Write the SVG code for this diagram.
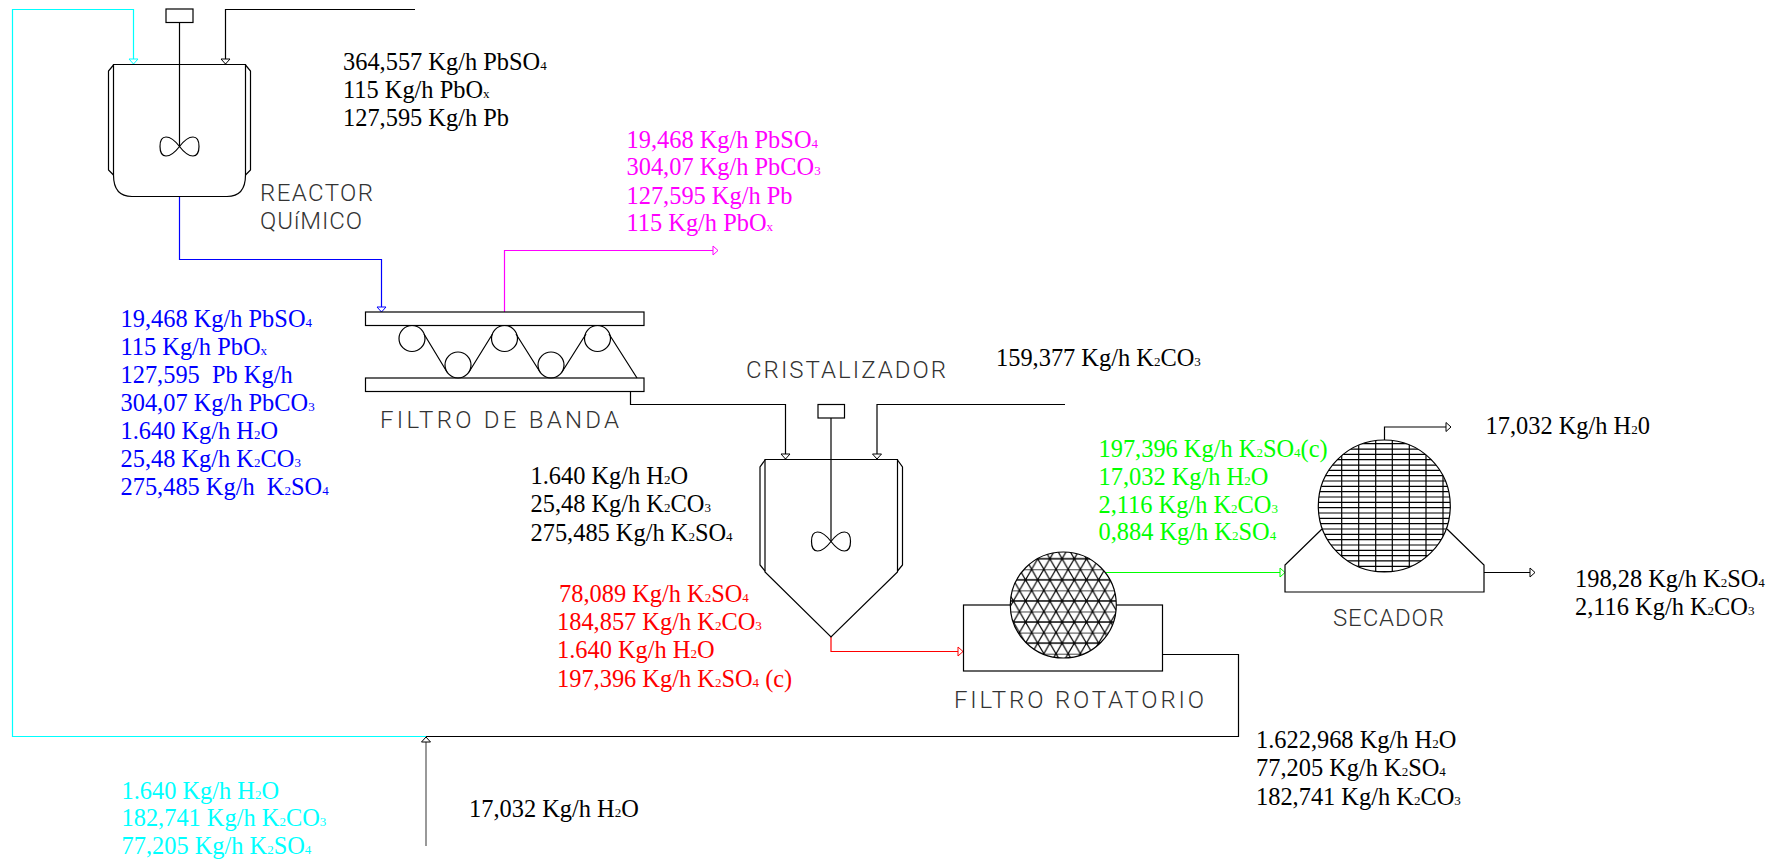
<svg xmlns="http://www.w3.org/2000/svg" width="1789" height="860" viewBox="0 0 1789 860">
<style>
.e{fill:none;stroke:#000;stroke-width:1.2}
.c{fill:none;stroke-width:1.2}
.t{font-family:"Liberation Serif","Times New Roman",serif;font-size:24.4px}
.s{font-size:13px}
.d{font-family:Roboto,"Liberation Sans",sans-serif;font-weight:300;font-size:24px;fill:#333}
</style>
<defs>
<marker id="ak" markerUnits="userSpaceOnUse" markerWidth="8" markerHeight="12" refX="6" refY="6" orient="auto"><path d="M1 1.5L6 6L1 10.500Z" fill="#fff" stroke="#000"/></marker>
<marker id="ac" markerUnits="userSpaceOnUse" markerWidth="8" markerHeight="12" refX="6" refY="6" orient="auto"><path d="M1 1.5L6 6L1 10.500Z" fill="#fff" stroke="#0ff"/></marker>
<marker id="ab" markerUnits="userSpaceOnUse" markerWidth="8" markerHeight="12" refX="6" refY="6" orient="auto"><path d="M1 1.5L6 6L1 10.500Z" fill="#fff" stroke="#00f"/></marker>
<marker id="am" markerUnits="userSpaceOnUse" markerWidth="8" markerHeight="12" refX="6" refY="6" orient="auto"><path d="M1 1.5L6 6L1 10.500Z" fill="#fff" stroke="#f0f"/></marker>
<marker id="ar" markerUnits="userSpaceOnUse" markerWidth="8" markerHeight="12" refX="6" refY="6" orient="auto"><path d="M1 1.5L6 6L1 10.500Z" fill="#fff" stroke="#f00"/></marker>
<marker id="ag" markerUnits="userSpaceOnUse" markerWidth="8" markerHeight="12" refX="6" refY="6" orient="auto"><path d="M1 1.5L6 6L1 10.500Z" fill="#fff" stroke="#0f0"/></marker>
<pattern id="tri" patternUnits="userSpaceOnUse" width="12.18" height="21.1" patternTransform="translate(1056 569.3)"><path d="M0 0H12.18M0 10.55H12.18M0 0L6.09 10.55L0 21.1M12.18 0L6.09 10.55L12.18 21.1" fill="none" stroke="#000" stroke-width="1.2"/></pattern>
<clipPath id="sc"><circle cx="1384.300" cy="506" r="66"/></clipPath>
<path id="imp" d="M0 0C-6.500 -8.500 -11.500 -9.500 -13.500 -9.500C-17.500 -9.500 -19.500 -5.500 -19.500 0C-19.500 5.500 -17.500 9.500 -13.500 9.500C-11.500 9.500 -6.500 8.500 0 0C6.500 -8.500 11.500 -9.500 13.500 -9.500C17.500 -9.500 19.500 -5.500 19.500 0C19.500 5.500 17.500 9.500 13.500 9.500C11.500 9.500 6.500 8.500 0 0Z" fill="none" stroke="#000" stroke-width="1.200"/>
</defs>
<rect width="1789" height="860" fill="#fff"/>
<g id="connectors">
<path class="c" stroke="#0ff" d="M426 736.500H12.500V9.500H133.500V64" marker-end="url(#ac)"/>
<path class="c" stroke="#000" d="M415 9.500H225.500V64" marker-end="url(#ak)"/>
<path class="c" stroke="#00f" d="M179.500 197V259.500H381.500V312" marker-end="url(#ab)"/>
<path class="c" stroke="#f0f" d="M504.500 312V250.500H718" marker-end="url(#am)"/>
<path class="c" stroke="#000" d="M630.500 391V404.500H785.500V459" marker-end="url(#ak)"/>
<path class="c" stroke="#000" d="M1065 404.500H877V459" marker-end="url(#ak)"/>
<path class="c" stroke="#f00" d="M831 637V651.500H963" marker-end="url(#ar)"/>
<path class="c" stroke="#0f0" d="M1105 572.500H1285" marker-end="url(#ag)"/>
<path class="c" stroke="#000" d="M1384.500 440V427H1451" marker-end="url(#ak)"/>
<path class="c" stroke="#000" d="M1484 572.500H1535" marker-end="url(#ak)"/>
<path class="c" stroke="#000" d="M1162.500 654.500H1238.500V736.500H426"/>
<path class="c" stroke="#555" d="M426 846V737" marker-end="url(#ak)"/>
</g>
<g id="reactor">
<rect class="e" x="166" y="9" width="27" height="13.500"/>
<path class="e" d="M113.500 64.500H245.500V175Q245.500 196.500 227 196.500H132Q113.500 196.500 113.500 175Z"/>
<path class="e" d="M113.500 65L108.500 71V170L113.500 175M245.500 65L250.500 71V170L245.500 175"/>
<path class="e" d="M179.500 22V146.500"/>
<use href="#imp" x="179.500" y="146.500"/>
<text class="d" x="260" y="201" textLength="113">REACTOR</text>
<text class="d" x="260" y="229" textLength="102">QUíMICO</text>
</g>
<g id="filtro-banda">
<rect class="e" x="365.500" y="312" width="278.500" height="13.500"/>
<rect class="e" x="365.500" y="378" width="278.500" height="13.500"/>
<circle class="e" cx="412" cy="338.500" r="13"/>
<circle class="e" cx="458" cy="365" r="13"/>
<circle class="e" cx="504.500" cy="338.500" r="13"/>
<circle class="e" cx="551" cy="365" r="13"/>
<circle class="e" cx="597.500" cy="338.500" r="13"/>
<path class="e" d="M424 334L447 372M469 372L492.500 334M516 334L540 372M562 372L586 334M609 334L637 378"/>
<text class="d" x="380" y="427.500" textLength="239">FILTRO DE BANDA</text>
</g>
<g id="cristalizador">
<rect class="e" x="818" y="404.500" width="26.500" height="13.500"/>
<path class="e" d="M765 459.500H897.500V572L831 637L765 572Z"/>
<path class="e" d="M765 460L760 467V565L765 571M897.500 460L902.500 467V565L897.500 571"/>
<path class="e" d="M831 418V541.500"/>
<use href="#imp" x="831" y="541.500"/>
<text class="d" x="746" y="378" textLength="200">CRISTALIZADOR</text>
</g>
<g id="filtro-rotatorio">
<rect class="e" x="963.500" y="605" width="199" height="66"/>
<circle cx="1063.300" cy="605" r="53" fill="#fff" stroke="none"/>
<circle cx="1063.300" cy="605" r="53" fill="url(#tri)" stroke="none"/>
<circle class="e" cx="1063.300" cy="605" r="53"/>
<text class="d" x="954" y="708" textLength="250">FILTRO ROTATORIO</text>
</g>
<g id="secador">
<path class="e" d="M1322 529L1285 565V592H1484V565L1447 529"/>
<circle cx="1384.300" cy="506" r="66" fill="#fff" stroke="none"/>
<path class="e" clip-path="url(#sc)" d="M1318 443.710H1451M1318 449.040H1451M1318 454.370H1451M1318 459.700H1451M1318 465.030H1451M1318 470.360H1451M1318 475.690H1451M1318 481.020H1451M1318 486.350H1451M1318 491.680H1451M1318 497.010H1451M1318 502.340H1451M1318 507.670H1451M1318 513H1451M1318 518.330H1451M1318 523.660H1451M1318 528.990H1451M1318 534.320H1451M1318 539.650H1451M1318 544.980H1451M1318 550.310H1451M1318 555.640H1451M1318 560.970H1451M1318 566.300H1451M1318 571.630H1451"/>
<path class="e" stroke-width="1.4" clip-path="url(#sc)" d="M1341.700 440V572M1358.700 440V572M1375.700 440V572M1392.300 440V572M1409.300 440V572M1426 440V572M1443 440V572"/>
<circle class="e" cx="1384.300" cy="506" r="66"/>
<text class="d" x="1333" y="626" textLength="111">SECADOR</text>
</g>
<g id="labels" class="t">
<g fill="#000">
<text x="343" y="70">364,557 Kg/h PbSO<tspan class="s">4</tspan></text>
<text x="343" y="98">115 Kg/h PbO<tspan class="s">x</tspan></text>
<text x="343" y="126">127,595 Kg/h Pb</text>
<text x="996" y="366">159,377 Kg/h K<tspan class="s">2</tspan>CO<tspan class="s">3</tspan></text>
<text x="530.500" y="484">1.640 Kg/h H<tspan class="s">2</tspan>O</text>
<text x="530.500" y="512">25,48 Kg/h K<tspan class="s">2</tspan>CO<tspan class="s">3</tspan></text>
<text x="530.500" y="541">275,485 Kg/h K<tspan class="s">2</tspan>SO<tspan class="s">4</tspan></text>
<text x="1485.500" y="433.500">17,032 Kg/h H<tspan class="s">2</tspan>0</text>
<text x="1575" y="586.500">198,28 Kg/h K<tspan class="s">2</tspan>SO<tspan class="s">4</tspan></text>
<text x="1575" y="614.500">2,116 Kg/h K<tspan class="s">2</tspan>CO<tspan class="s">3</tspan></text>
<text x="1256" y="748">1.622,968 Kg/h H<tspan class="s">2</tspan>O</text>
<text x="1256" y="776">77,205 Kg/h K<tspan class="s">2</tspan>SO<tspan class="s">4</tspan></text>
<text x="1256" y="805">182,741 Kg/h K<tspan class="s">2</tspan>CO<tspan class="s">3</tspan></text>
<text x="469" y="817">17,032 Kg/h H<tspan class="s">2</tspan>O</text>
</g>
<g fill="#f0f">
<text x="626.500" y="147.500">19,468 Kg/h PbSO<tspan class="s">4</tspan></text>
<text x="626.500" y="175">304,07 Kg/h PbCO<tspan class="s">3</tspan></text>
<text x="626.500" y="203.500">127,595 Kg/h Pb</text>
<text x="626.500" y="231">115 Kg/h PbO<tspan class="s">x</tspan></text>
</g>
<g fill="#00f">
<text x="120.500" y="326.500">19,468 Kg/h PbSO<tspan class="s">4</tspan></text>
<text x="120.500" y="355">115 Kg/h PbO<tspan class="s">x</tspan></text>
<text x="120.500" y="383" xml:space="preserve">127,595  Pb Kg/h</text>
<text x="120.500" y="411">304,07 Kg/h PbCO<tspan class="s">3</tspan></text>
<text x="120.500" y="439">1.640 Kg/h H<tspan class="s">2</tspan>O</text>
<text x="120.500" y="467">25,48 Kg/h K<tspan class="s">2</tspan>CO<tspan class="s">3</tspan></text>
<text x="120.500" y="495" xml:space="preserve">275,485 Kg/h  K<tspan class="s">2</tspan>SO<tspan class="s">4</tspan></text>
</g>
<g fill="#f00">
<text x="559" y="602">78,089 Kg/h K<tspan class="s">2</tspan>SO<tspan class="s">4</tspan></text>
<text x="557" y="630">184,857 Kg/h K<tspan class="s">2</tspan>CO<tspan class="s">3</tspan></text>
<text x="557" y="658">1.640 Kg/h H<tspan class="s">2</tspan>O</text>
<text x="557" y="687">197,396 Kg/h K<tspan class="s">2</tspan>SO<tspan class="s">4</tspan> (c)</text>
</g>
<g fill="#0f0">
<text x="1098.500" y="456.500">197,396 Kg/h K<tspan class="s">2</tspan>SO<tspan class="s">4</tspan>(c)</text>
<text x="1098.500" y="484.500">17,032 Kg/h H<tspan class="s">2</tspan>O</text>
<text x="1098.500" y="512.500">2,116 Kg/h K<tspan class="s">2</tspan>CO<tspan class="s">3</tspan></text>
<text x="1098.500" y="540">0,884 Kg/h K<tspan class="s">2</tspan>SO<tspan class="s">4</tspan></text>
</g>
<g fill="#0ff">
<text x="121.500" y="799">1.640 Kg/h H<tspan class="s">2</tspan>O</text>
<text x="121.500" y="826">182,741 Kg/h K<tspan class="s">2</tspan>CO<tspan class="s">3</tspan></text>
<text x="121.500" y="854">77,205 Kg/h K<tspan class="s">2</tspan>SO<tspan class="s">4</tspan></text>
</g>
</g>
</svg>
